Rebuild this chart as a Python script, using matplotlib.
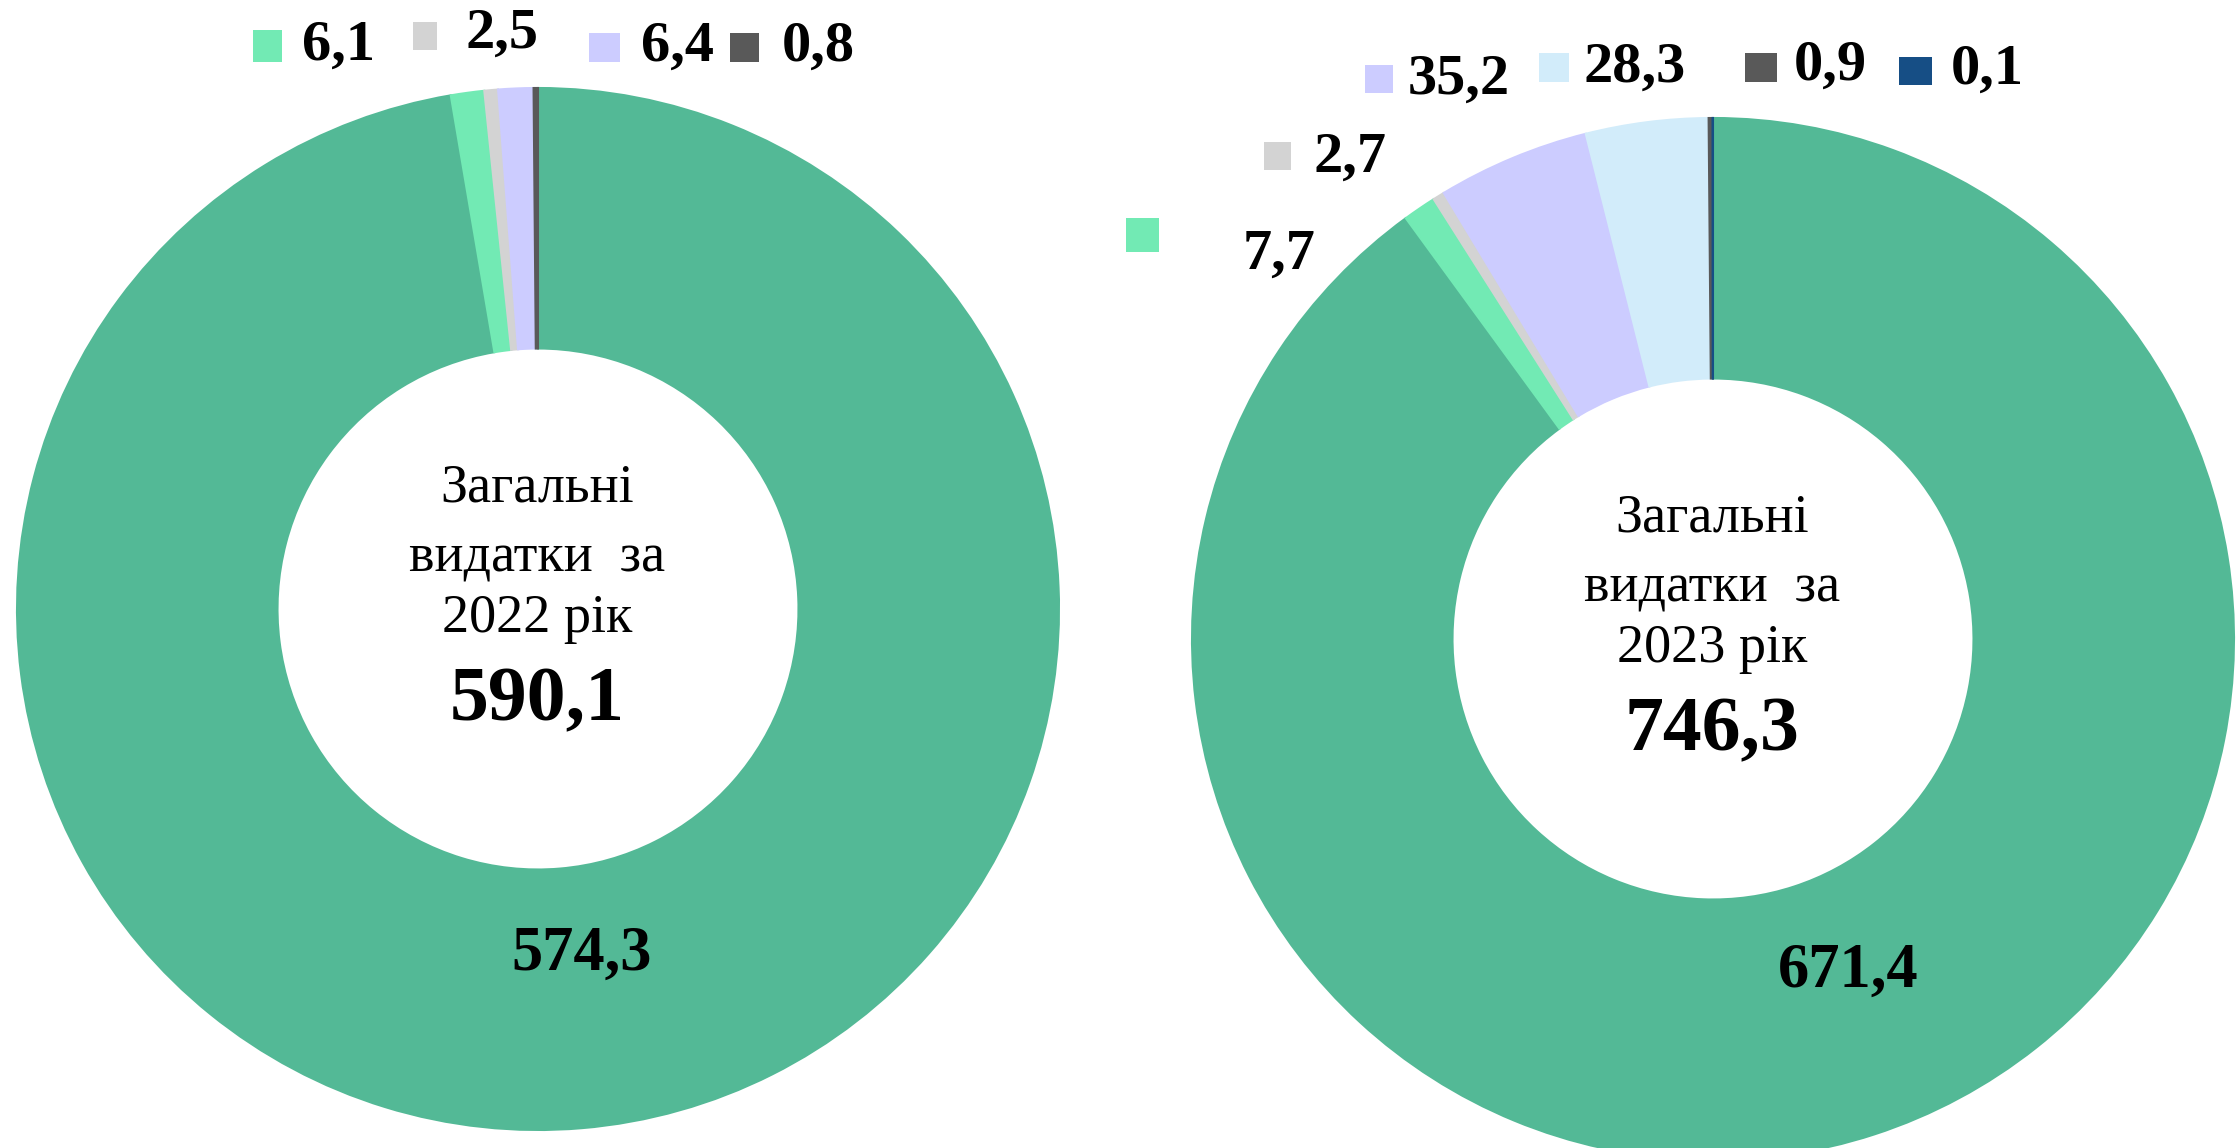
import matplotlib
matplotlib.use('Agg')
import matplotlib.pyplot as plt
from matplotlib.patches import Rectangle

# data (млрд грн)
years = ['2022', '2023']
totals = [590.1, 746.3]
values_2022 = [574.3, 6.1, 2.5, 6.4, 0.8]
values_2023 = [671.4, 7.7, 2.7, 35.2, 28.3, 0.9, 0.1]

GREEN = '#53B996'
LGREEN = '#72EAB4'
LGRAY = '#D3D3D3'
LAV = '#CCCCFF'
DGRAY = '#595959'
LBLUE = '#D2ECFA'
DBLUE = '#164E85'
colors_2022 = [GREEN, LGREEN, LGRAY, LAV, DGRAY]
colors_2023 = [GREEN, LGREEN, LGRAY, LAV, LBLUE, DGRAY, DBLUE]

W, H = 2238, 1148
SERIF = ['Liberation Serif', 'DejaVu Serif']


def fmt(v):
    return f'{v:.1f}'.replace('.', ',')


def img_y(y):
    # layout positions measured from the top of the picture
    return H - y


def donut(ax, values, colors, center, radius):
    wedges, _ = ax.pie(values, colors=colors, startangle=90, counterclock=False,
                       center=(center[0], img_y(center[1])), radius=radius,
                       wedgeprops=dict(width=radius * 0.5, linewidth=1.5))
    # thin same-colour outline so the tiny slices stay visible
    for w in wedges:
        w.set_edgecolor(w.get_facecolor())


def tag(ax, value, color, sq, tx, ty, size=42):
    # small coloured square + value, like the data callouts in the source
    x0, y0, x1, y1 = sq
    ax.add_patch(Rectangle((x0, img_y(y1)), x1 - x0, y1 - y0,
                           facecolor=color, edgecolor='none'))
    ax.text(tx, img_y(ty), fmt(value), ha='left', va='center',
            fontsize=size, fontweight='bold', family=SERIF)


def centre_text(ax, x, ys, year, total):
    lines = ['Загальні', 'видатки  за', f'{year} рік']
    for y, s in zip(ys[:3], lines):
        ax.text(x, img_y(y), s, ha='center', va='center', fontsize=39,
                family=SERIF)
    ax.text(x, img_y(ys[3]), fmt(total), ha='center', va='center',
            fontsize=56, fontweight='bold', family=SERIF)


def main():
    fig = plt.figure(figsize=(W / 100, H / 100), dpi=100)
    ax = fig.add_axes([0, 0, 1, 1])

    # 2022
    donut(ax, values_2022, colors_2022, (538, 609), 521)
    # 2023
    donut(ax, values_2023, colors_2023, (1713, 639), 521)

    # pie() resets the limits, so set the pixel frame afterwards
    ax.set_xlim(0, W)
    ax.set_ylim(0, H)
    ax.set_aspect('equal')
    ax.axis('off')

    centre_text(ax, 537, [488, 558, 619, 702], years[0], totals[0])
    ax.text(582, img_y(955), fmt(values_2022[0]), ha='center', va='center',
            fontsize=45, fontweight='bold', family=SERIF)
    tag(ax, values_2022[1], colors_2022[1], (253, 30, 282, 62), 302, 46)
    tag(ax, values_2022[2], colors_2022[2], (413, 22, 437, 50), 465, 34)
    tag(ax, values_2022[3], colors_2022[3], (589, 33, 620, 62), 641, 47)
    tag(ax, values_2022[4], colors_2022[4], (730, 33, 759, 62), 782, 47)

    centre_text(ax, 1712, [518, 588, 649, 732], years[1], totals[1])
    ax.text(1848, img_y(972), fmt(values_2023[0]), ha='center', va='center',
            fontsize=45, fontweight='bold', family=SERIF)
    tag(ax, values_2023[1], colors_2023[1], (1126, 218, 1159, 252), 1243, 255)
    tag(ax, values_2023[2], colors_2023[2], (1264, 142, 1291, 170), 1313, 158)
    tag(ax, values_2023[3], colors_2023[3], (1365, 65, 1393, 93), 1408, 80)
    tag(ax, values_2023[4], colors_2023[4], (1539, 53, 1569, 82), 1584, 68)
    tag(ax, values_2023[5], colors_2023[5], (1745, 53, 1777, 82), 1794, 66)
    tag(ax, values_2023[6], colors_2023[6], (1899, 57, 1932, 85), 1951, 70)

    fig.savefig('out.png', dpi=100, facecolor='white')
    plt.close(fig)


if __name__ == '__main__':
    main()
